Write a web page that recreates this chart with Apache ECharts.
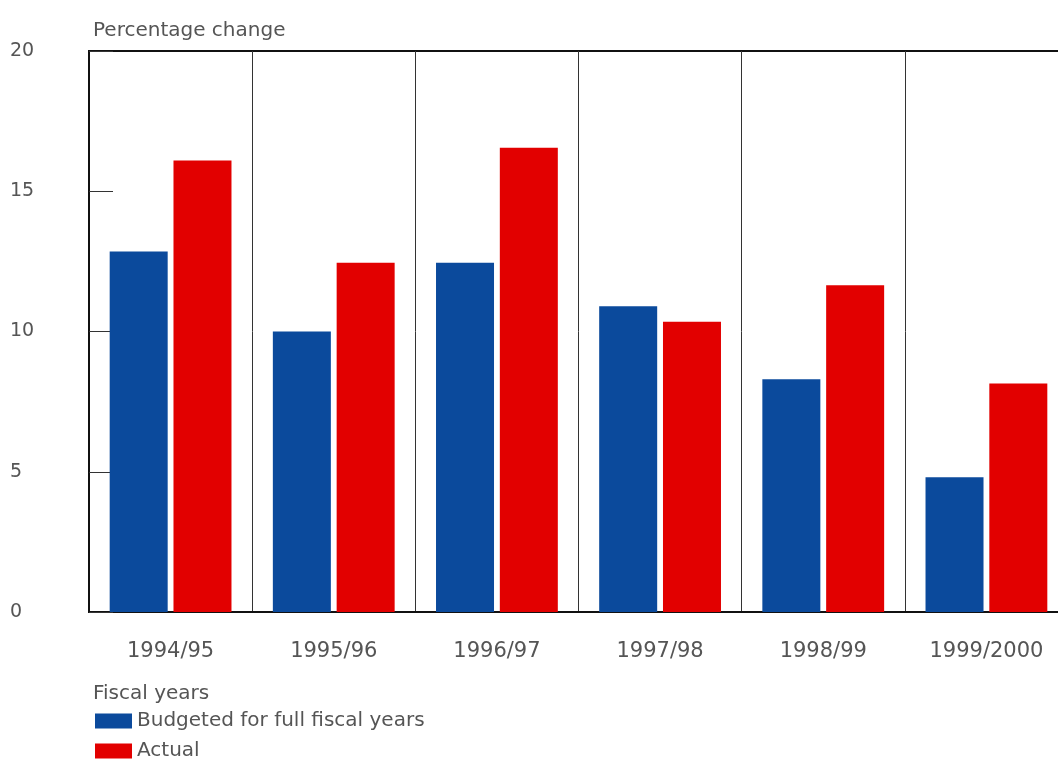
<!DOCTYPE html>
<html><head><meta charset="utf-8">
<script src="https://cdn.jsdelivr.net/npm/echarts@6/dist/echarts.min.js"></script>
<style>html,body{margin:0;padding:0;background:#fff}#c{width:1058px;height:760px}</style>
</head><body><div id="c"></div>
<script>
var categories = ['1994/95','1995/96','1996/97','1997/98','1998/99','1999/2000'];
var budgeted = [12.85, 10.0, 12.45, 10.9, 8.3, 4.8];
var actual = [16.1, 12.45, 16.55, 10.35, 11.65, 8.15];
var yTicks = [0, 5, 10, 15, 20];

var FONT = 'DejaVu Sans';
var TXT = '#555';
var chart = echarts.init(document.getElementById('c'));
chart.setOption({
  animation: false,
  title: [
    {text: 'Percentage change', left: 88, top: 16, textStyle: {fontFamily: FONT, fontSize: 20, fontWeight: 'normal', color: TXT}},
    {text: 'Fiscal years', left: 88, top: 679, textStyle: {fontFamily: FONT, fontSize: 20, fontWeight: 'normal', color: TXT}}
  ],
  legend: [
    {left: 90, top: 706, itemWidth: 37, itemHeight: 15, icon: 'rect', itemGap: 10,
     textStyle: {fontFamily: FONT, fontSize: 20, color: TXT},
     data: ['Budgeted for full fiscal years']},
    {left: 90, top: 736, itemWidth: 37, itemHeight: 15, icon: 'rect', itemGap: 10,
     textStyle: {fontFamily: FONT, fontSize: 20, color: TXT},
     data: ['Actual']}
  ],
  grid: {left: 89, width: 979, top: 51, height: 561, show: true, borderColor: '#111', borderWidth: 2, containLabel: false, outerBoundsMode: 'none'},
  xAxis: {
    type: 'category', data: categories,
    axisLine: {lineStyle: {color: '#111', width: 2}},
    axisTick: {show: false},
    splitLine: {show: true, lineStyle: {color: '#333', width: 1}},
    axisLabel: {margin: 29, fontFamily: FONT, fontSize: 21, color: TXT}
  },
  yAxis: {
    type: 'value', min: yTicks[0], max: yTicks[yTicks.length - 1], interval: 5,
    axisLine: {show: true, lineStyle: {color: '#111', width: 2}},
    axisTick: {show: true, inside: true, length: 24, lineStyle: {color: '#333', width: 1}},
    splitLine: {show: false},
    axisLabel: {margin: 79, align: 'left', fontFamily: FONT, fontSize: 19, color: TXT}
  },
  series: [
    {name: 'Budgeted for full fiscal years', type: 'bar', data: budgeted, barWidth: 58, barGap: '10%', itemStyle: {color: '#0b4a9c'}},
    {name: 'Actual', type: 'bar', data: actual, barWidth: 58, barGap: '10%', itemStyle: {color: '#e20000'}}
  ]
});
</script></body></html>
